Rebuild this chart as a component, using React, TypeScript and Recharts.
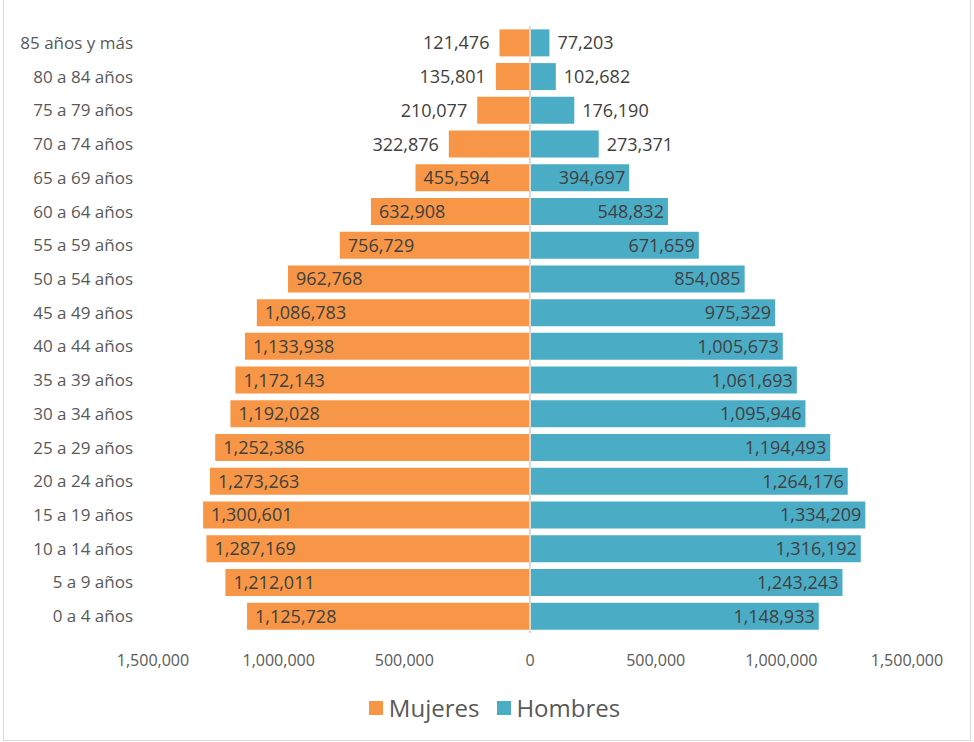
import React from 'react';
import { BarChart, Bar, XAxis, YAxis, Legend, LabelList, ReferenceLine } from 'recharts';

const ageGroups = [
  '85 años y más', '80 a 84 años', '75 a 79 años', '70 a 74 años', '65 a 69 años',
  '60 a 64 años', '55 a 59 años', '50 a 54 años', '45 a 49 años', '40 a 44 años',
  '35 a 39 años', '30 a 34 años', '25 a 29 años', '20 a 24 años', '15 a 19 años',
  '10 a 14 años', '5 a 9 años', '0 a 4 años',
];

const mujeres = [
  121476, 135801, 210077, 322876, 455594, 632908, 756729, 962768, 1086783,
  1133938, 1172143, 1192028, 1252386, 1273263, 1300601, 1287169, 1212011, 1125728,
];

const hombres = [
  77203, 102682, 176190, 273371, 394697, 548832, 671659, 854085, 975329,
  1005673, 1061693, 1095946, 1194493, 1264176, 1334209, 1316192, 1243243, 1148933,
];

const xTicks = [-1500000, -1000000, -500000, 0, 500000, 1000000, 1500000];

const ORANGE = '#F79646';
const BLUE = '#4BACC6';
const FONT = '"Open Sans", sans-serif';

const data = ageGroups.map((g, i) => ({ group: g, mujeres: -mujeres[i], hombres: hombres[i] }));

const fmt = (v: number) => Math.abs(v).toLocaleString('en-US');

// labels sit inside the bar end when the bar is long enough, else outside
const makeLabel = (side: 'left' | 'right') => (props: any) => {
  const { x, y, width, height, value } = props;
  const left = Math.min(x, x + width);
  const right = Math.max(x, x + width);
  const cy = y + height / 2;
  const inside = Math.abs(value) > 350000;
  let tx: number;
  let anchor: 'start' | 'end';
  if (side === 'left') {
    tx = inside ? left + 8 : left - 10;
    anchor = inside ? 'start' : 'end';
  } else {
    tx = inside ? right - 4 : right + 8;
    anchor = inside ? 'end' : 'start';
  }
  return (
    <text x={tx} y={cy} dy="0.36em" textAnchor={anchor} fill="#404040" fontSize={18} fontFamily={FONT}>
      {fmt(value)}
    </text>
  );
};

const renderLegend = () => (
  <div style={{ display: 'flex', justifyContent: 'center', alignItems: 'center', fontFamily: FONT, fontSize: 24, color: '#595959', paddingLeft: 82, marginTop: 9 }}>
    <span style={{ display: 'inline-block', width: 14, height: 14, background: ORANGE, marginRight: 6 }} />
    <span style={{ marginRight: 18 }}>Mujeres</span>
    <span style={{ display: 'inline-block', width: 14, height: 14, background: BLUE, marginRight: 5 }} />
    <span>Hombres</span>
  </div>
);

export default function App() {
  return (
    <div style={{ position: 'absolute', left: 0, top: 0, width: 974, height: 742, background: '#fff' }}>
      <div style={{ position: 'absolute', left: 3, top: -1, width: 966, height: 740, border: '1px solid #d9d9d9' }} />
      <BarChart
        width={974}
        height={742}
        data={data}
        layout="vertical"
        stackOffset="sign"
        barCategoryGap="10%"
        margin={{ top: 26, right: 67, left: 0, bottom: 10 }}
      >
        <XAxis
          type="number"
          domain={[-1500000, 1500000]}
          ticks={xTicks}
          tickFormatter={fmt}
          axisLine={false}
          tickLine={false}
          tickMargin={16}
          height={49}
          tick={{ fill: '#595959', fontSize: 16, fontFamily: FONT }}
        />
        <YAxis
          type="category"
          dataKey="group"
          width={153}
          axisLine={false}
          tickLine={false}
          tickMargin={14}
          tick={{ fill: '#595959', fontSize: 17, fontFamily: FONT }}
        />
        <Legend verticalAlign="bottom" height={50} content={renderLegend} />
        <Bar dataKey="mujeres" name="Mujeres" stackId="p" fill={ORANGE} isAnimationActive={false}>
          <LabelList dataKey="mujeres" content={makeLabel('left')} />
        </Bar>
        <Bar dataKey="hombres" name="Hombres" stackId="p" fill={BLUE} isAnimationActive={false}>
          <LabelList dataKey="hombres" content={makeLabel('right')} />
        </Bar>
        <ReferenceLine x={0} stroke="#d9d9d9" strokeWidth={2} />
      </BarChart>
    </div>
  );
}
